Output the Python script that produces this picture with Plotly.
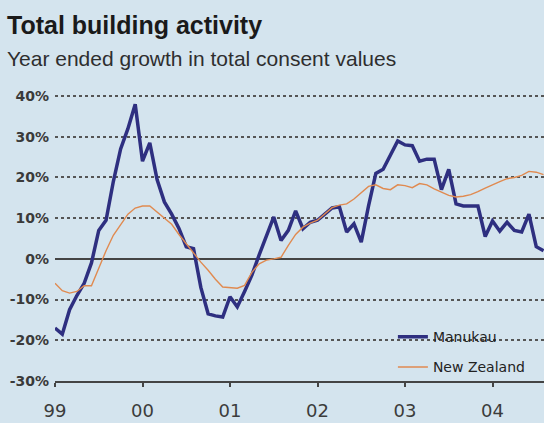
import plotly.graph_objects as go

# Month index 0 = Jan 1999
months = list(range(68))
manukau = [-17, -18.5, -12.5, -9, -6, -1, 7, 9.5, 19, 27, 32, 38,
           24, 28.5, 19.5, 14, 11, 7.5, 3, 2.5, -7, -13.5, -14, -14.3,
           -9.3, -11.8, -8, -4, 1, 5.5, 10.3, 4.5, 7, 11.8, 7.4, 9,
           9.5, 11, 12.5, 12.8, 6.6, 8.6, 4.1, 13, 21, 22, 25.5, 29,
           28, 27.8, 24, 24.5, 24.5, 17, 22, 13.5, 13, 13, 13, 5.5,
           9.3, 6.8, 9, 7, 6.6, 11, 3, 2]
new_zealand = [-6, -7.8, -8.4, -8, -6.6, -6.6, -2.3, 2, 5.8, 8.5, 11, 12.5,
               13, 13, 11.5, 10, 8.5, 6, 3.7, 1.5, -0.8, -2.8, -5, -6.9,
               -7, -7.2, -6.5, -3.3, -1.2, -0.3, 0, 0.4, 3.3, 6, 7.8, 8.8,
               9.5, 11, 12.6, 13.2, 13.5, 14.7, 16.2, 17.8, 18.2, 17.3, 17, 18.2,
               18, 17.5, 18.5, 18.2, 17.2, 16.3, 15.6, 15.2, 15.4, 15.8, 16.5, 17.4,
               18.3, 19, 19.7, 20, 20.5, 21.5, 21.3, 20.7]
year_ticks = [1999, 2000, 2001, 2002, 2003, 2004]
year_labels = ["99", "00", "01", "02", "03", "04"]
y_ticks = [-30, -20, -10, 0, 10, 20, 30, 40]
y_labels = ["-30%", "-20%", "-10%", "0%", "10%", "20%", "30%", "40%"]

x = [1999 + m / 12 for m in months]

BG = "#d4e4ee"
L, T, PW, PH = 55, 92, 489, 289

fig = go.Figure()
fig.add_trace(go.Scatter(x=x, y=manukau, mode="lines", name="Manukau",
                         line=dict(color="#2e2f80", width=3.5), legendgroup="a"))
fig.add_trace(go.Scatter(x=x, y=new_zealand, mode="lines", name="New Zealand",
                         line=dict(color="#e08a50", width=1.4), legendgroup="b"))

fig.update_layout(
    width=544, height=423,
    paper_bgcolor=BG, plot_bgcolor=BG,
    margin=dict(l=L, r=0, t=T, b=42, autoexpand=False),
    showlegend=True,
    legend=dict(x=0.691, y=0.207, xanchor="left", yanchor="top",
                bgcolor="rgba(0,0,0,0)", tracegroupgap=9,
                font=dict(family="DejaVu Sans", size=14, color="#222")),
    annotations=[
        dict(text="<b>Total building activity</b>", xref="paper", yref="paper",
             x=(5 - L) / PW, y=1 + (T - 9) / PH, xanchor="left", yanchor="top",
             showarrow=False,
             font=dict(family="Liberation Sans", size=25, color="#1a1a1a")),
        dict(text="Year ended growth in total consent values", xref="paper", yref="paper",
             x=(5 - L) / PW, y=1 + (T - 45) / PH, xanchor="left", yanchor="top",
             showarrow=False,
             font=dict(family="Liberation Sans", size=21, color="#2e2e2e")),
    ],
)

fig.update_xaxes(range=[1999, 1999 + PW / 87.5], tickvals=year_ticks, ticktext=year_labels,
                 showgrid=False, zeroline=False, showline=True, linecolor="#444", linewidth=2,
                 ticks="outside", ticklen=4, tickcolor="#444", tickwidth=1.5,
                 ticklabelstandoff=8, automargin=False,
                 tickfont=dict(family="DejaVu Sans", size=18, color="#3c3c3c"))
fig.update_yaxes(range=[-30, 41], tickvals=y_ticks, ticktext=y_labels,
                 showgrid=True, gridcolor="#555", gridwidth=2, griddash="3px,3px",
                 zeroline=True, zerolinecolor="#444", zerolinewidth=1.5,
                 showline=False, ticks="", ticklabelstandoff=5, automargin=False,
                 tickfont=dict(family="DejaVu Sans", size=14, color="#3a3a3a", weight=700))

fig.write_html("out.html", config={"displayModeBar": False},
               post_script="document.body.style.margin='0px';document.body.style.overflow='hidden';")
